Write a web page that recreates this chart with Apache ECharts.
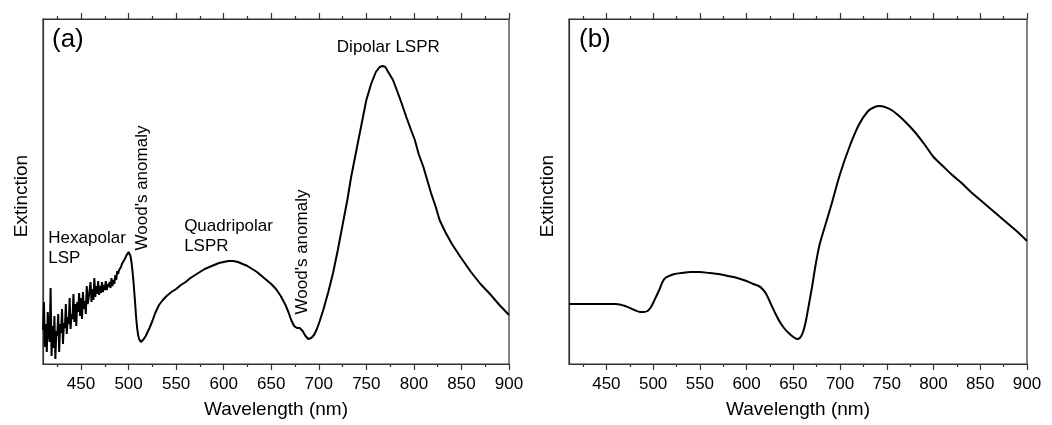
<!DOCTYPE html>
<html>
<head>
<meta charset="utf-8">
<script src="https://cdn.jsdelivr.net/npm/echarts@6/dist/echarts.min.js"></script>
<style>
html,body{margin:0;padding:0;background:#fff;}
#chart{width:1052px;height:425px;}
</style>
</head>
<body>
<div id="chart"></div>
<script>
// ---- Data ----
// Panel (a): measured extinction spectrum (arbitrary units)
const wlA = [410,411,412,413,414,415,416,417,418,419,420,421,422,423,424,425,426,427,428,429,
  430,431,432,433,434,435,436,437,438,439,440,441,442,443,444,445,446,447,448,449,
  450,451,452,453,454,455,456,457,458,459,460,461,462,463,464,465,466,467,468,469,
  470,471,472,473,474,475,476,477,478,479,480,481,482,483,484,485,486,487,488,489,
  490,491,492,493,494,495,496,497,498,499,500,501,502,503,504,505,506,507,508,509,
  510,511,512,513,514,516,518,520,522,525,528,532,536,540,545,550,555,560,565,570,
  575,580,585,590,595,600,605,610,615,620,625,630,635,640,645,650,655,660,665,668,
  671,674,677,680,683,686,689,692,695,698,701,705,710,715,720,726,730,734,740,745,
  750,755,760,764,767,770,773,778,782,787,792,797,801,805,810,814,818,823,827,833,
  840,849,860,870,880,890,900];
const extA = [0.34,0.62,0.17,0.40,0.12,0.52,0.30,0.22,0.76,0.08,0.38,0.16,0.48,0.05,0.33,0.28,0.50,0.12,0.40,0.31,
  0.55,0.20,0.41,0.36,0.60,0.30,0.47,0.40,0.66,0.35,0.50,0.45,0.70,0.42,0.60,0.38,0.62,0.52,0.71,0.48,
  0.66,0.45,0.72,0.55,0.63,0.50,0.78,0.60,0.66,0.64,0.82,0.62,0.75,0.64,0.86,0.67,0.78,0.70,0.83,0.69,
  0.78,0.71,0.82,0.72,0.79,0.74,0.83,0.74,0.80,0.77,0.82,0.76,0.86,0.78,0.84,0.80,0.89,0.84,0.93,0.90,
  0.94,0.96,0.97,1.00,1.01,1.02,1.05,1.06,1.09,1.11,1.12,1.11,1.08,1.02,0.94,0.84,0.72,0.59,0.46,0.36,
  0.29,0.25,0.23,0.22,0.23,0.25,0.28,0.32,0.36,0.43,0.51,0.59,0.64,0.68,0.72,0.75,0.79,0.82,0.86,0.89,
  0.92,0.95,0.97,0.99,1.01,1.02,1.03,1.03,1.02,1.00,0.98,0.95,0.92,0.88,0.84,0.80,0.75,0.68,0.59,0.52,
  0.44,0.38,0.36,0.36,0.33,0.28,0.25,0.26,0.29,0.35,0.43,0.55,0.72,0.91,1.14,1.44,1.64,1.87,2.16,2.40,
  2.64,2.80,2.92,2.97,2.98,2.97,2.92,2.84,2.74,2.61,2.47,2.34,2.24,2.10,1.97,1.84,1.71,1.57,1.44,1.32,
  1.20,1.07,0.92,0.80,0.70,0.59,0.49];

// Panel (b): simulated extinction spectrum (arbitrary units)
const wlB = [410,420,440,460,470,480,486,490,494,497,500,503,507,510,513,517,523,530,540,550,
  560,570,580,590,600,607,613,617,621,625,630,635,640,645,650,654,657,660,663,666,
  670,674,678,682,690,700,710,720,730,737,742,748,755,762,770,780,790,800,810,820,
  830,840,850,860,870,880,890,900];
const extB = [0.60,0.60,0.60,0.60,0.58,0.54,0.52,0.52,0.53,0.56,0.61,0.67,0.75,0.82,0.86,0.88,0.90,0.91,0.92,0.92,
  0.91,0.90,0.88,0.86,0.83,0.80,0.78,0.75,0.70,0.62,0.52,0.43,0.36,0.31,0.27,0.25,0.26,0.31,0.41,0.56,
  0.77,1.00,1.19,1.32,1.57,1.90,2.17,2.39,2.53,2.57,2.58,2.57,2.54,2.49,2.42,2.32,2.20,2.07,1.98,1.89,
  1.81,1.72,1.64,1.56,1.48,1.40,1.32,1.23];

// Axis ticks
const majorTicks = [450,500,550,600,650,700,750,800,850,900];
const minorTicks = [425,475,525,575,625,675,725,775,825,875];
const xMin = 410, xMax = 900;

// Text annotations for panel (a): [wavelength, extinction] anchor, text
const annText = ['Hexapolar\nLSP', "Wood's anomaly", 'Quadripolar\nLSPR', "Wood's anomaly", 'Dipolar LSPR'];
const annX = [415.6, 514.3, 558.4, 682.3, 773.1];
const annY = [1.16, 1.76, 1.28, 1.12, 3.17];
const annRot = [0, 90, 0, 90, 0];
const panelTags = ['(a)', '(b)'];
const xName = 'Wavelength (nm)';
const yName = 'Extinction';

// ---- Chart ----
const FONT = '"Liberation Sans", Arial, Helvetica, sans-serif';
const INK = '#000';
const BOX = '#333';
const grids = [
  {left: 43, top: 19, width: 466, height: 345},
  {left: 569, top: 19, width: 458, height: 345}
];

function xAxesFor(g) {
  const base = {type: 'value', gridIndex: g, min: xMin, max: xMax, splitLine: {show: false}};
  return [
    Object.assign({}, base, {
      position: 'bottom',
      axisLine: {show: true, onZero: false, lineStyle: {color: BOX, width: 1.2}},
      axisTick: {show: true, inside: false, length: 6, customValues: majorTicks, lineStyle: {color: BOX, width: 1.2}},
      axisLabel: {show: true, customValues: majorTicks, margin: 12, fontSize: 17, color: INK, fontFamily: FONT,
        showMinLabel: true, showMaxLabel: true},
      name: xName, nameLocation: 'middle', nameGap: 36,
      nameTextStyle: {fontSize: 19, color: INK, fontFamily: FONT}
    }),
    Object.assign({}, base, {
      position: 'bottom',
      axisLine: {show: false, onZero: false},
      axisTick: {show: true, inside: false, length: 3, customValues: minorTicks, lineStyle: {color: BOX, width: 1.2}},
      axisLabel: {show: false}
    }),
    Object.assign({}, base, {
      position: 'top',
      axisLine: {show: true, onZero: false, lineStyle: {color: BOX, width: 1.2}},
      axisTick: {show: true, inside: false, length: 6, customValues: majorTicks, lineStyle: {color: BOX, width: 1.2}},
      axisLabel: {show: false}
    }),
    Object.assign({}, base, {
      position: 'top',
      axisLine: {show: false, onZero: false},
      axisTick: {show: true, inside: false, length: 3, customValues: minorTicks, lineStyle: {color: BOX, width: 1.2}},
      axisLabel: {show: false}
    })
  ];
}

function yAxisFor(g) {
  return {
    type: 'value', gridIndex: g, min: 0, max: 3.45, position: 'left',
    axisLine: {show: true, onZero: false, lineStyle: {color: BOX, width: 1.2}},
    axisTick: {show: false}, axisLabel: {show: false}, splitLine: {show: false},
    name: yName, nameLocation: 'middle', nameGap: 12, nameRotate: 90,
    nameTextStyle: {fontSize: 19, color: INK, fontFamily: FONT, padding: [0, 9, 0, 0]}
  };
}

const annotations = annText.map((t, i) => ({
  coord: [annX[i], annY[i]],
  symbol: 'circle', symbolSize: 0,
  label: annRot[i] ? {show: true, position: 'inside', rotate: 90, formatter: t}
                   : {show: true, position: annX[i] < 700 ? 'right' : 'inside', distance: 0, formatter: t, lineHeight: 20}
}));

const option = {
  animation: false,
  backgroundColor: '#fff',
  textStyle: {fontFamily: FONT},
  title: panelTags.map((t, i) => ({
    text: t, left: i === 0 ? 47 : 574, top: 22,
    textStyle: {fontSize: 26, fontWeight: 'normal', color: INK, fontFamily: FONT}
  })),
  grid: grids.map(g => Object.assign({show: true, borderColor: BOX, borderWidth: 1.2, containLabel: false}, g)),
  xAxis: xAxesFor(0).concat(xAxesFor(1)),
  yAxis: [yAxisFor(0), yAxisFor(1)],
  series: [
    {
      type: 'line', xAxisIndex: 0, yAxisIndex: 0, showSymbol: false, smooth: false,
      lineStyle: {color: INK, width: 2}, itemStyle: {color: INK},
      data: wlA.map((w, i) => [w, extA[i]]),
      markPoint: {
        silent: true,
        itemStyle: {color: 'rgba(0,0,0,0)'},
        label: {color: INK, fontSize: 17, fontFamily: FONT},
        data: annotations
      }
    },
    {
      type: 'line', xAxisIndex: 4, yAxisIndex: 1, showSymbol: false, smooth: 0.3,
      lineStyle: {color: INK, width: 2}, itemStyle: {color: INK},
      data: wlB.map((w, i) => [w, extB[i]])
    }
  ]
};

const chart = echarts.init(document.getElementById('chart'), null, {renderer: 'canvas'});
chart.setOption(option);
</script>
</body>
</html>
